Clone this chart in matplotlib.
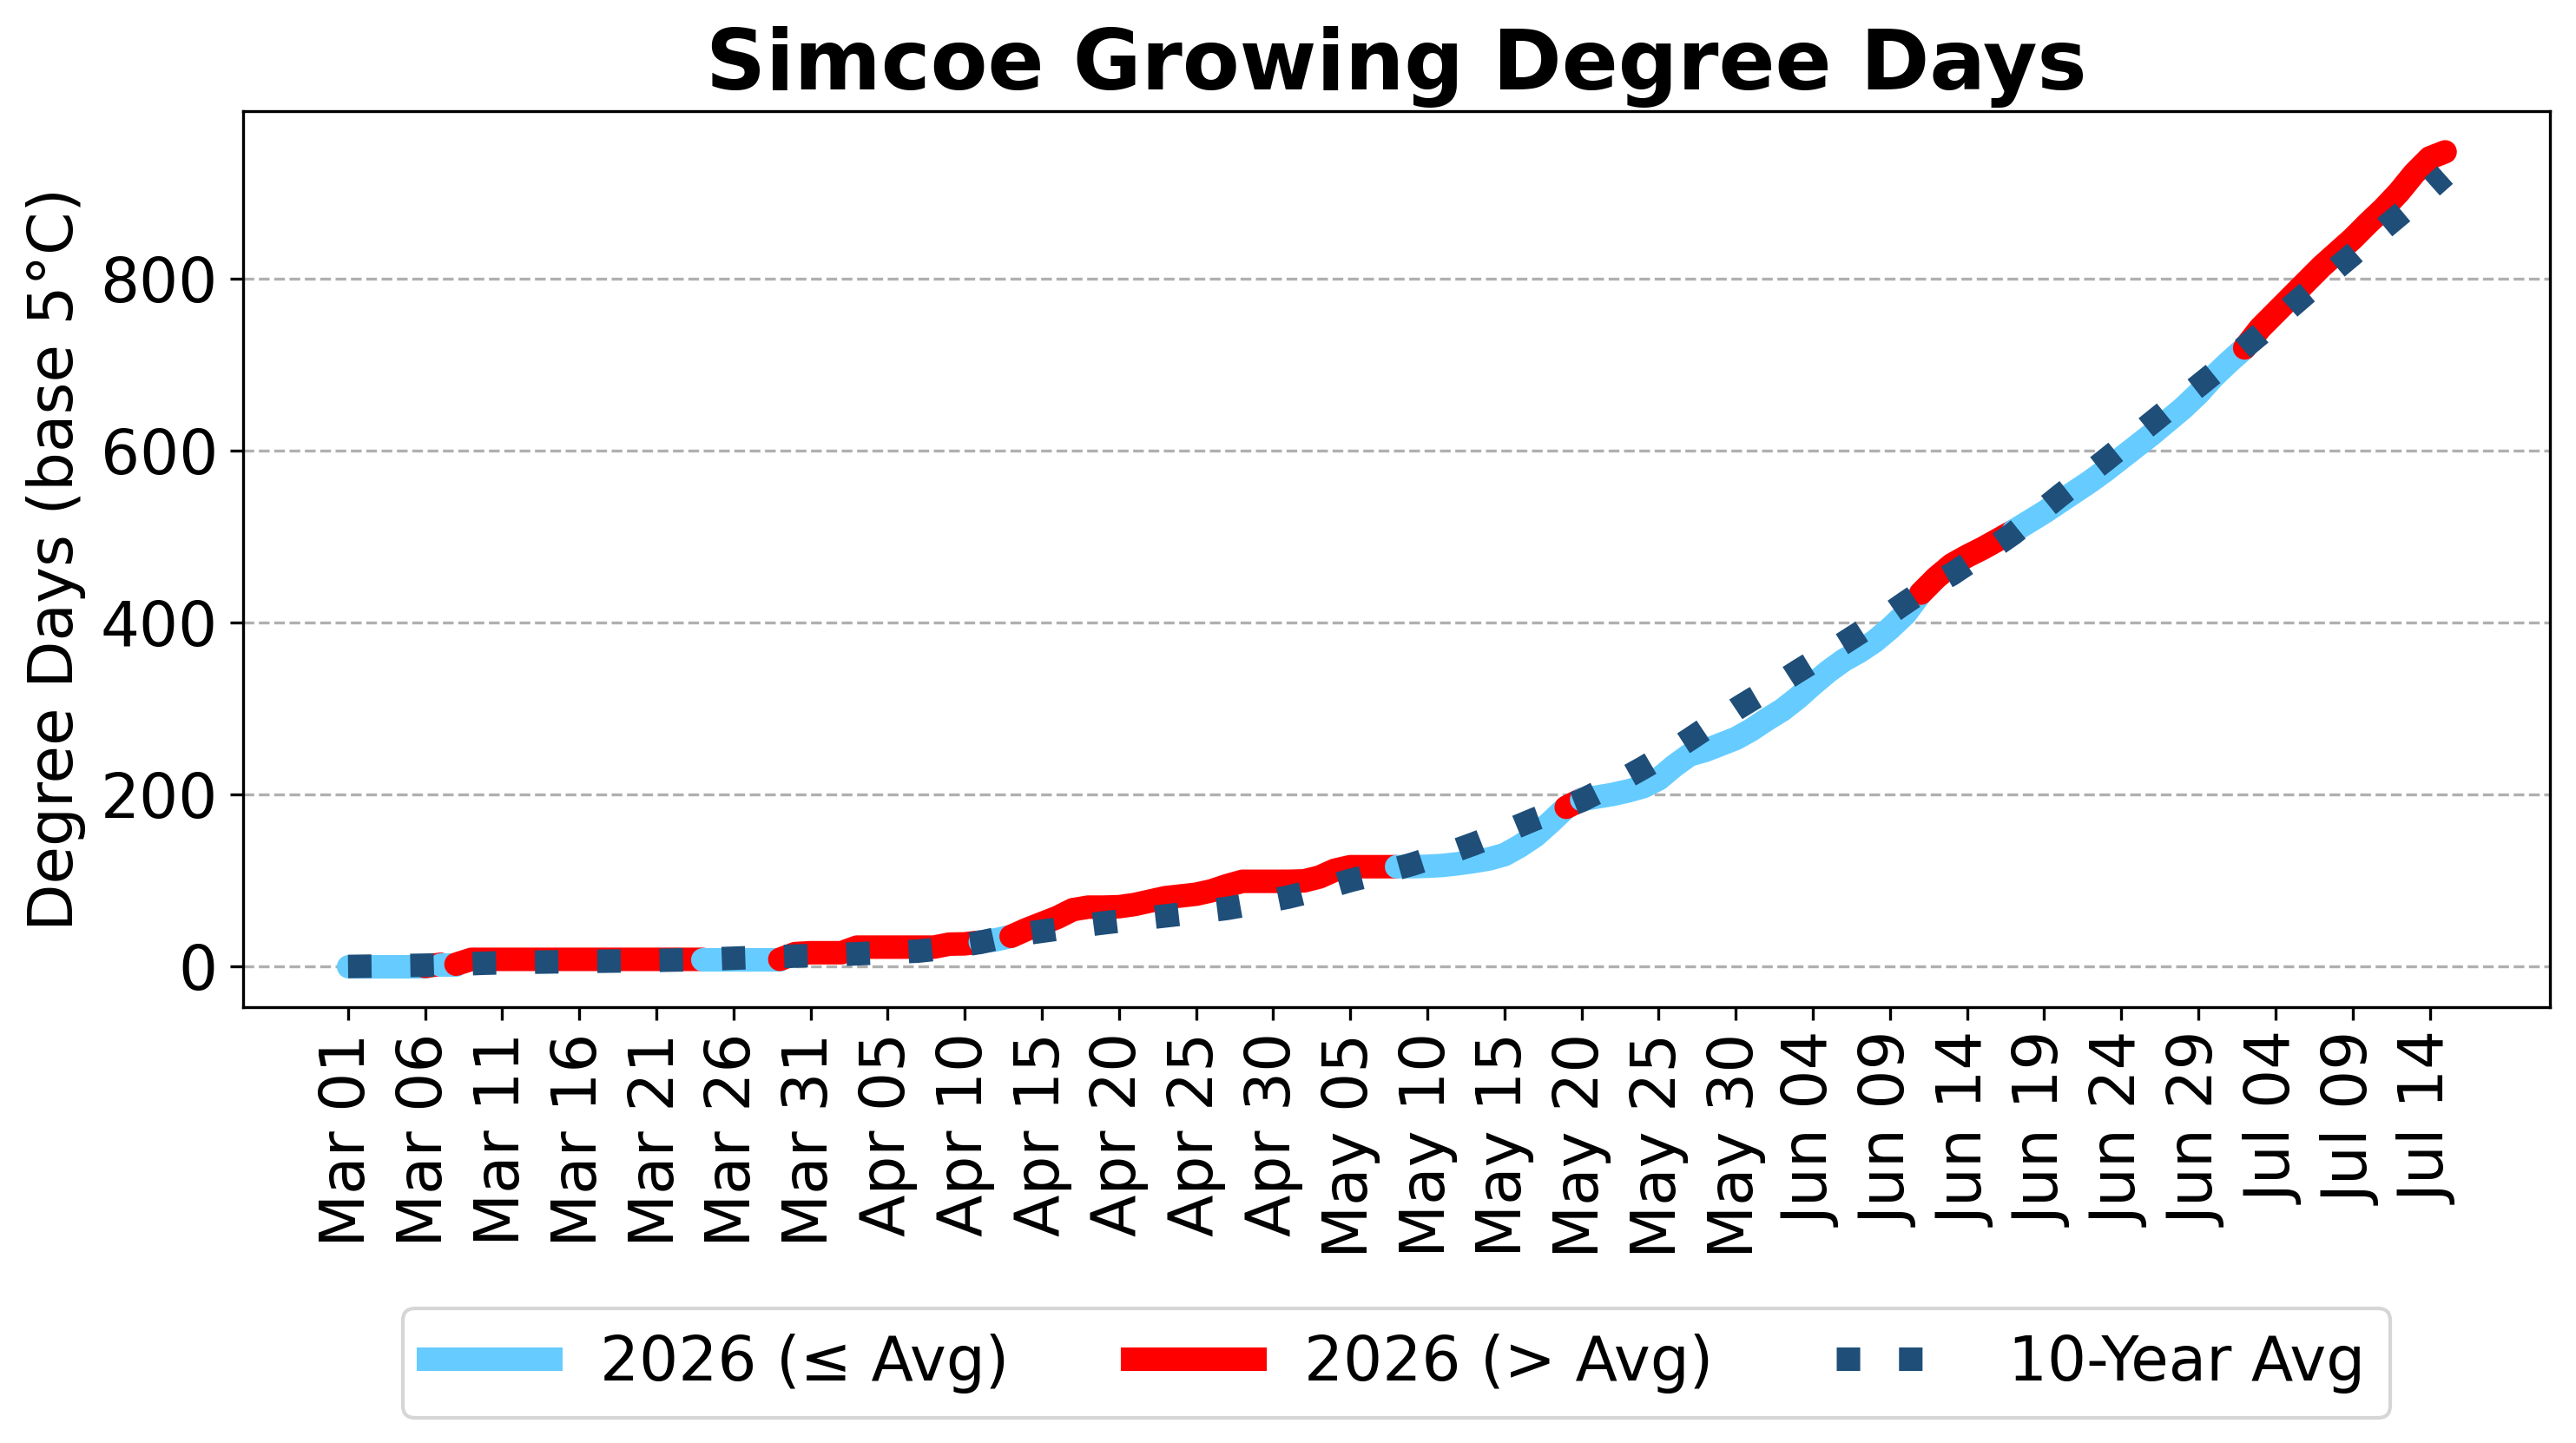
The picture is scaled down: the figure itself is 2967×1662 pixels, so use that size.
import numpy as np
import matplotlib.pyplot as plt
import matplotlib.dates as mdates
from matplotlib.lines import Line2D

# daily dates, 2026 season
dates = np.arange(np.datetime64('2026-03-01'), np.datetime64('2026-07-16'))

# cumulative GDD 2026 (base 5C), one value per day
gdd_2026 = [
    0, 0, 0, 0, 0, 0, 2.6, 2.6, 8.3, 8.3,
    8.3, 8.3, 8.3, 8.3, 8.3, 8.3, 8.3, 8.3, 8.3, 8.3,
    8.3, 8.3, 8.3, 8.3, 8.3, 8.3, 8.3, 8.3, 8.3, 15,
    16, 16, 16, 22.5, 22.5, 22.5, 22.5, 22.5, 22.5, 26,
    26.3, 28.5, 31, 35, 43, 50, 57, 66, 69, 69,
    69.5, 72, 76, 80, 82, 84, 88, 94, 99, 99,
    99, 99, 99.5, 104, 112, 116, 116, 116, 116, 116,
    116.5, 117.5, 119.5, 122, 125, 130, 140, 152, 168, 185,
    194, 197, 200, 204, 209, 218, 233, 246, 251, 258,
    265, 275, 287, 298, 312, 328, 343, 356, 366, 378,
    393, 410, 434, 452, 467, 477, 486, 496, 506, 517,
    528, 540, 552, 564, 577, 591, 605, 619, 634, 649,
    666, 686, 703, 719, 742, 760, 778, 796, 814, 830,
    846, 864, 881, 900, 922, 940, 947,
]

# 10-year average cumulative GDD
gdd_avg = [
    0, 0.2, 0.5, 0.8, 1.1, 1.5, 2.0, 2.6, 3.3, 3.9,
    4.3, 4.6, 5.0, 5.3, 5.5, 5.8, 6.0, 6.2, 6.5, 6.8,
    7.0, 7.3, 7.7, 8.1, 9.0, 9.6, 10.2, 10.8, 11.3, 11.9,
    12.6, 13.3, 14.0, 14.6, 15.4, 16.2, 17.0, 17.9, 19.8, 22.5,
    25.2, 28.0, 32.0, 35.5, 38.5, 41.0, 43.5, 46.0, 48.4, 50.7,
    52.7, 54.7, 56.7, 58.7, 60.8, 63.0, 65.2, 67.5, 70.6, 73.8,
    77.2, 80.8, 85.2, 89.8, 94.8, 100.0, 104.5, 109.0, 113.8, 118.8,
    124.5, 130.2, 136.0, 142.5, 149.5, 156.5, 164.0, 171.5, 178.0, 186.0,
    193.0, 202.0, 211.0, 221.0, 231.0, 241.5, 252.5, 264.0, 276.0, 287.0,
    299.0, 310.0, 320.5, 331.5, 343.0, 354.0, 365.0, 376.0, 387.5, 399.0,
    410.5, 423.0, 435.0, 446.0, 456.0, 468.0, 480.0, 491.0, 503.5, 518.0,
    532.5, 547.0, 561.0, 575.0, 589.0, 603.5, 618.0, 632.5, 647.0, 661.0,
    675.0, 689.5, 704.5, 720.0, 735.0, 751.0, 767.0, 782.5, 797.5, 812.5,
    827.5, 843.0, 858.0, 873.0, 888.0, 904.0, 920.0,
]

col_low = '#66ccff'
col_high = '#ff0000'
col_avg = '#1f4e79'

gdd = np.array(gdd_2026)
avg = np.array(gdd_avg)

fig = plt.figure(figsize=(9.89, 5.54), dpi=300)
ax = fig.add_axes([0.0944, 0.302, 0.8955, 0.621])

# colour each segment by whether its end point is above the average,
# then draw runs of equal colour as one line
above = gdd[1:] > avg[1:]
start = 0
for i in range(1, len(above) + 1):
    if i == len(above) or above[i] != above[start]:
        c = col_high if above[start] else col_low
        ax.plot(dates[start:i + 1], gdd[start:i + 1], color=c, lw=6.5,
                solid_capstyle='round', zorder=2)
        start = i

ax.plot(dates, avg, color=col_avg, lw=6.5, linestyle=':', zorder=3)

ax.set_title('Simcoe Growing Degree Days', fontsize=23, fontweight='bold')
ax.set_ylabel('Degree Days (base 5°C)', fontsize=17)
ax.grid(axis='y', linestyle='--')
ax.set_axisbelow(True)

ax.set_xticks(dates[::5])
ax.xaxis.set_major_formatter(mdates.DateFormatter('%b %d'))
ax.tick_params(axis='x', labelrotation=90, labelsize=17)
ax.tick_params(axis='y', labelsize=17)

handles = [
    Line2D([0], [0], color=col_low, lw=6.5),
    Line2D([0], [0], color=col_high, lw=6.5),
    Line2D([0], [0], color=col_avg, lw=6.5, linestyle=':'),
]
ax.legend(handles, ['2026 (≤ Avg)', '2026 (> Avg)', '10-Year Avg'],
          loc='upper center', bbox_to_anchor=(0.5, -0.302), ncol=3,
          fontsize=17)

fig.savefig('out.png', dpi=300)
